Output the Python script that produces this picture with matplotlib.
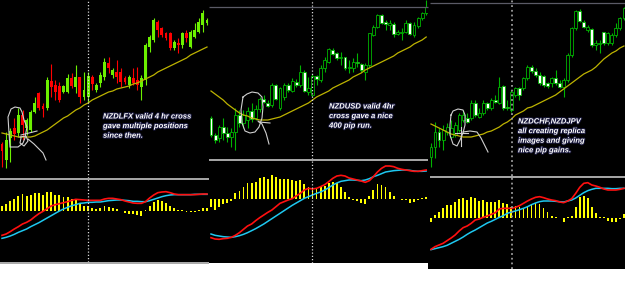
import matplotlib

matplotlib.use("Agg")
import matplotlib.pyplot as plt
import matplotlib.patheffects as pe

W, H = 625, 297

# Price levels are on a screen scale (smaller number = higher price), so the
# price axes are inverted.  MACD values are in the same screen-ish units.

# ---- chart 1 -------------------------------------------------------------
p1_open = [144, 160, 138, 128, 133, 115, 128, 130, 112, 93, 106, 108, 81, 85, 86, 92, 92, 78, 87, 77,
           97, 97, 77, 90, 83, 77, 63, 75, 72, 72, 78, 85, 78, 80, 87, 80, 47, 40, 22, 28,
           33, 33, 48, 43, 45, 33, 47, 37, 32, 25, 23]
p1_close = [151, 140, 131, 134, 115, 125, 120, 112, 103, 108, 109, 80, 87, 92, 100, 86, 78, 86, 77, 97,
            90, 76, 84, 85, 75, 62, 68, 70, 77, 82, 82, 77, 83, 85, 78, 45, 37, 20, 30, 35,
            38, 48, 42, 45, 33, 38, 32, 30, 22, 13, 20]
p1_high = [142, 132, 128, 118, 108, 110, 118, 110, 97, 92, 103, 77, 64, 80, 82, 85, 74, 73, 65, 77,
           72, 72, 75, 83, 72, 58, 57, 68, 60, 68, 76, 75, 68, 67, 75, 43, 35, 18, 20, 27,
           32, 32, 40, 38, 32, 30, 30, 23, 18, 10, 18]
p1_low = [167, 168, 162, 140, 137, 140, 135, 132, 113, 110, 117, 110, 97, 100, 102, 93, 93, 88, 93, 103,
          100, 102, 90, 92, 87, 80, 73, 78, 83, 87, 84, 88, 85, 90, 100, 85, 52, 42, 37, 37,
          40, 50, 50, 53, 48, 42, 48, 38, 33, 32, 25]
p1_ma = [133, 134, 135, 136, 137, 137, 137, 137, 136, 134, 132, 130, 127, 124, 121, 118, 116, 113, 110, 108,
         105, 103, 100, 98, 96, 94, 92, 91, 89, 88, 87, 86, 84, 83, 81, 79, 77, 75, 72, 70,
         68, 66, 64, 62, 60, 58, 55, 53, 51, 49, 47]
p1_hist = [15, 20, 30, 35, 45, 51, 45, 48, 53, 53, 48, 57, 57, 48, 48, 41, 41, 35, 33, 23,
           15, 15, 10, 7, 10, 15, 13, 10, 6, 1, -7, -10, -10, -12, -14, 3, 15, 28, 33, 30,
           25, 15, 8, 3, 3, -4, -4, -2, 3, 10, 10]
p1_macd = [-73, -69, -62, -54, -47, -39, -34, -27, -17, -8, -1, 7, 15, 19, 22, 25, 28, 32, 35, 34,
           33, 32, 32, 32, 32, 36, 38, 38, 36, 34, 30, 27, 24, 23, 23, 28, 39, 48, 55, 57,
           58, 55, 51, 49, 49, 49, 49, 49, 50, 51, 51]
p1_signal = [-82, -79, -75, -70, -64, -59, -54, -47, -41, -35, -28, -21, -14, -7, 0, 6, 11, 16, 19, 23,
             24, 26, 26, 27, 27, 29, 31, 32, 33, 33, 32, 31, 29, 29, 28, 28, 31, 35, 39, 43,
             46, 48, 49, 49, 49, 49, 49, 50, 50, 50, 50]
p1_cross = 21
p1_note = ["NZDLFX valid 4 hr cross", "gave multiple positions", "since then."]

# ---- chart 2 -------------------------------------------------------------
p2_open = [118, 135, 138, 127, 133, 137, 132, 115, 123, 120, 111, 118, 109, 99, 103, 105, 85, 108, 97, 85,
           91, 82, 85, 72, 92, 95, 76, 80, 68, 62, 50, 53, 58, 57, 68, 68, 62, 64, 72, 65,
           35, 27, 15, 22, 25, 24, 34, 33, 32, 23, 35, 26, 18, 13]
p2_close = [135, 140, 127, 133, 137, 132, 115, 123, 115, 111, 119, 109, 99, 102, 106, 85, 99, 88, 85, 90,
            81, 85, 72, 91, 88, 76, 79, 68, 60, 49, 54, 58, 57, 68, 67, 62, 63, 70, 65, 33,
            27, 15, 23, 24, 23, 34, 32, 32, 23, 34, 25, 18, 13, 7]
p2_high = [116, 133, 125, 118, 127, 128, 108, 110, 110, 107, 103, 105, 97, 95, 100, 83, 84, 87, 83, 83,
           78, 79, 65, 70, 77, 74, 75, 65, 57, 48, 48, 52, 52, 57, 60, 58, 53, 63, 63, 33,
           25, 14, 14, 20, 20, 22, 30, 28, 20, 22, 22, 17, 12, 0]
p2_low = [137, 143, 142, 140, 142, 147, 150, 127, 128, 128, 122, 120, 112, 103, 107, 107, 100, 110, 100, 92,
          92, 87, 87, 92, 95, 97, 85, 82, 72, 63, 55, 60, 65, 70, 73, 72, 67, 72, 80, 67,
          36, 28, 24, 30, 30, 37, 35, 40, 33, 35, 37, 28, 20, 15]
p2_ma = [91, 94, 97, 100, 104, 107, 110, 113, 115, 116, 118, 119, 120, 120, 120, 119, 118, 117, 115, 113,
         111, 109, 107, 105, 103, 100, 97, 95, 93, 91, 88, 86, 84, 82, 80, 77, 75, 73, 70, 68,
         66, 64, 62, 60, 58, 56, 53, 51, 49, 47, 44, 42, 40, 37]
p2_hist = [-24, -32, -22, -14, -12, -4, 18, 26, 38, 48, 48, 53, 63, 66, 60, 73, 66, 60, 60, 60,
           58, 56, 58, 46, 36, 30, 33, 36, 40, 50, 53, 48, 36, 23, 8, -2, -4, -10, -14, 10,
           28, 46, 43, 38, 23, 10, 1, -2, -2, -10, -7, -2, 3, 6]
p2_macd = [-115, -119, -120, -118, -117, -114, -108, -100, -90, -80, -74, -64, -55, -47, -39, -32, -22, -12, -7, -2,
           2, 10, 18, 28, 33, 31, 33, 38, 44, 53, 63, 70, 72, 70, 64, 61, 58, 55, 51, 56,
           68, 82, 93, 100, 100, 98, 93, 90, 88, 86, 84, 84, 86, 88]
p2_signal = [-104, -108, -110, -112, -113, -114, -112, -109, -105, -100, -94, -88, -81, -74, -66, -58, -50, -42, -34, -26,
             -18, -11, -4, 3, 8, 13, 18, 22, 28, 35, 43, 49, 54, 56, 58, 58, 57, 56, 58, 62,
             68, 72, 77, 82, 84, 86, 87, 88, 88, 87, 85, 84, 84, 85]
p2_cross = 24.9
p2_note = ["NZDUSD valid 4hr", "cross gave a nice", "400 pip run."]

# ---- chart 3 -------------------------------------------------------------
p3_open = [157, 147, 132, 140, 132, 137, 135, 130, 120, 118, 118, 103, 117, 113, 103, 108, 100, 103, 86, 107,
           110, 95, 88, 88, 78, 67, 71, 75, 76, 83, 83, 78, 83, 87, 80, 55, 28, 11, 22, 30,
           29, 45, 44, 32, 43, 43, 35, 28, 18]
p3_close = [147, 132, 140, 130, 127, 128, 125, 115, 115, 122, 103, 115, 113, 103, 108, 100, 102, 87, 108, 108,
            92, 88, 95, 78, 67, 71, 75, 83, 85, 86, 78, 83, 87, 80, 55, 28, 11, 21, 27, 27,
            45, 43, 43, 43, 33, 35, 28, 18, 8]
p3_high = [143, 122, 128, 125, 123, 120, 122, 113, 110, 113, 100, 100, 108, 100, 102, 98, 95, 77, 85, 100,
           90, 87, 87, 77, 65, 65, 68, 72, 75, 82, 77, 70, 80, 78, 53, 27, 10, 9, 20, 25,
           28, 40, 40, 32, 32, 33, 23, 17, 7]
p3_low = [167, 158, 147, 150, 135, 138, 137, 132, 122, 123, 120, 117, 118, 115, 110, 110, 103, 104, 110, 110,
          112, 97, 100, 90, 80, 73, 77, 85, 87, 88, 87, 85, 88, 97, 82, 57, 30, 22, 28, 32,
          47, 50, 53, 45, 45, 45, 37, 30, 20]
p3_ma = [124, 126, 128, 130, 132, 134, 135, 136, 137, 137, 137, 136, 135, 134, 132, 131, 129, 127, 124, 122,
         119, 115, 113, 111, 108, 107, 105, 103, 101, 99, 97, 95, 92, 89, 86, 83, 80, 77, 74, 72,
         70, 67, 63, 59, 56, 53, 51, 48, 46]
p3_hist = [-12, 8, 16, 28, 38, 38, 46, 56, 58, 53, 61, 58, 51, 53, 48, 48, 48, 53, 45, 40,
           33, 35, 33, 28, 33, 38, 43, 40, 30, 18, 5, 3, 0, -12, 3, 5, 33, 63, 65, 58,
           33, 15, 3, 1, -10, -12, -12, -5, 10]
p3_macd = [-95, -87, -82, -77, -69, -61, -52, -40, -30, -25, -17, -7, -4, 1, 5, 10, 15, 26, 28, 28,
           28, 31, 36, 43, 50, 56, 61, 63, 60, 56, 53, 51, 47, 45, 50, 57, 73, 91, 103, 105,
           98, 95, 91, 86, 83, 83, 83, 85, 88]
p3_signal = [-96, -93, -90, -87, -83, -77, -71, -65, -58, -50, -43, -37, -30, -23, -16, -11, -5, 1, 6, 13,
             17, 20, 24, 28, 33, 39, 44, 48, 50, 50, 50, 49, 48, 47, 50, 53, 59, 67, 75, 81,
             85, 88, 88, 88, 88, 87, 87, 88, 88]
p3_cross = 20.2
p3_note = ["NZDCHF,NZDJPV", "all creating replica", "images and giving", "nice pip gains."]

# hand-drawn circles around the crosses (screen pixels)
loops = [
    [(10, 147), (9, 133), (8, 117), (11, 109), (15, 107), (20, 108), (22, 112), (24, 120),
     (27, 127), (26, 132), (25, 138), (23, 143), (18, 147), (11, 147)],
    [(21, 135), (29, 133), (37, 131)],
    [(20, 137), (26, 136), (28, 141), (24, 146), (20, 143), (21, 138)],
    [(28, 139), (34, 144), (39, 149), (43, 153), (46, 160)],
    [(243, 97), (247, 94), (252, 92), (258, 93), (262, 97), (263, 107), (262, 118), (259, 127),
     (255, 132), (250, 133), (245, 131), (242, 123), (241, 110), (243, 97)],
    [(258, 121), (262, 124), (266, 133), (269, 144)],
    [(259, 122), (270, 123)],
    [(451, 115), (453, 111), (458, 109), (463, 110), (465, 115), (465, 125), (463, 133), (460, 140),
     (457, 146), (453, 144), (450, 135), (450, 125), (451, 115)],
    [(463, 132), (470, 131), (477, 132), (481, 138), (485, 146), (488, 152)],
    [(461, 127), (461, 146)],
    [(455, 133), (468, 133)],
]


def px_axes(fig, x0, y0, x1, y1):
    ax = fig.add_axes([x0 / W, 1 - y1 / H, (x1 - x0) / W, (y1 - y0) / H])
    ax.set_facecolor("black")
    ax.set_xticks([])
    ax.set_yticks([])
    for s in ax.spines.values():
        s.set_visible(False)
    return ax


def candles(ax, o, c, hi, lo, up_col, dn_col, edge=None):
    for i in range(len(o)):
        bull = c[i] < o[i]
        face = up_col if bull else dn_col
        line = edge or face
        ax.vlines(i, hi[i], lo[i], color=line, lw=0.8, zorder=2)
        body = c[i] - o[i]
        if body == 0:
            body = 0.8
        ax.bar(i, body, bottom=o[i], width=0.72, color=face, edgecolor=line,
               linewidth=0.6 if edge else 0, zorder=3)


def macd_panel(ax, hist, macd, signal):
    x = range(len(hist))
    ax.bar(x, hist, width=0.45, color="#ffff00", zorder=2)
    ax.plot(x, signal, color="#1ec8f0", lw=1.1, zorder=3)
    ax.plot(x, macd, color="#ff1010", lw=1.2, zorder=4)


fig = plt.figure(figsize=(W / 100, H / 100), dpi=100, facecolor="white")

panels = [
    # x0, x1, price bottom, macd bottom, first candle px, candle step px
    dict(x0=0, x1=209, yp=178, ym=262, first=2, step=4.1,
         data=(p1_open, p1_close, p1_high, p1_low), ma=p1_ma,
         macd=(p1_hist, p1_macd, p1_signal), cross=p1_cross, classic=True),
    dict(x0=209, x1=428, yp=159, ym=263, first=211, step=4.06,
         data=(p2_open, p2_close, p2_high, p2_low), ma=p2_ma,
         macd=(p2_hist, p2_macd, p2_signal), cross=p2_cross, classic=False),
    dict(x0=428, x1=625, yp=176, ym=269, first=431, step=4.02,
         data=(p3_open, p3_close, p3_high, p3_low), ma=p3_ma,
         macd=(p3_hist, p3_macd, p3_signal), cross=p3_cross, classic=False),
]
macd_zero = [(123, 170), (148, 150), (143, 170)]

for k, p in enumerate(panels):
    xl = ((p["x0"] - p["first"]) / p["step"], (p["x1"] - p["first"]) / p["step"])
    axp = px_axes(fig, p["x0"], 0, p["x1"], p["yp"])
    axm = px_axes(fig, p["x0"], p["yp"], p["x1"], p["ym"])
    o, c, hi, lo = p["data"]
    if p["classic"]:
        candles(axp, o, c, hi, lo, "#6cf000", "#ff0000")
    else:
        candles(axp, o, c, hi, lo, "black", "white", edge="#00b400")
    axp.plot(range(len(p["ma"])), p["ma"], color="#bdb300", lw=0.9, zorder=4)
    axp.set_xlim(*xl)
    axp.set_ylim(p["yp"], 0)

    macd_panel(axm, *p["macd"])
    zero, origin = macd_zero[k]
    axm.set_xlim(*xl)
    axm.set_ylim(zero - (p["ym"] - origin) * 3, zero - (p["yp"] - origin) * 3)

    dot = "#d8d8d8" if k < 2 else "#9a9a9a"
    for a in (axp, axm):
        a.axvline(p["cross"], color=dot, lw=0.9 if k < 2 else 1.3,
                  linestyle=(0, (1, 1.6)), zorder=5)

# overlay in screen pixels for separators, scribbles and notes
ov = fig.add_axes([0, 0, 1, 1], zorder=10)
ov.set_xlim(0, W)
ov.set_ylim(H, 0)
ov.axis("off")
ov.patch.set_alpha(0)

ov.hlines([178.5, 262.5], 0, 209, color="#a8a8a8", lw=1.4)
ov.hlines(159.5, 209, 428, color="#a8a8a8", lw=1.4)
ov.hlines(176.5, 430, 625, color="#a8a8a8", lw=1.4)
ov.hlines(6.5, 209, 428, color="#5a5a66", lw=0.9)
ov.hlines(2.5, 430, 625, color="#5a5a66", lw=0.9)

for pts in loops:
    ov.plot([q[0] for q in pts], [q[1] for q in pts], color="#d0d0d0", lw=0.8)

notes = [(p1_note, 103, 117), (p2_note, 329, 107), (p3_note, 518, 122)]
for lines, x, y in notes:
    for j, s in enumerate(lines):
        ov.text(x, y + j * 9.6, s, color="white", fontsize=5.5, family="Liberation Sans",
                fontweight="bold", fontstyle="italic", ha="left", va="center",
                path_effects=[pe.withStroke(linewidth=1.4, foreground="#18183c")])

fig.savefig("out.png", dpi=100, facecolor="white")
